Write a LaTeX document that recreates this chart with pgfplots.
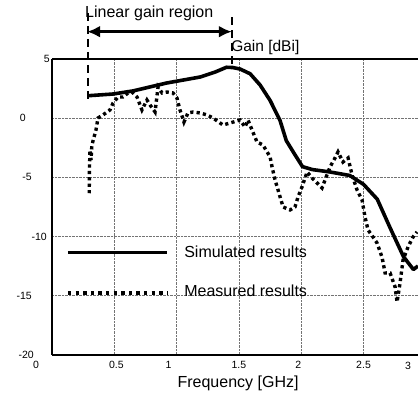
\documentclass[border=0pt]{standalone}
\usepackage{pgfplots}
\pgfplotsset{compat=1.18}
\usepackage{fontspec}
\setmainfont{Liberation Sans}
\usetikzlibrary{arrows.meta}
\newcommand{\sh}[2]{\makebox[0pt]{\hspace*{#1}#2}}
\begin{document}
\begin{tikzpicture}
\begin{axis}[name=ax, scale only axis, width=366pt, height=295.7pt,
  xmin=0, xmax=2.937, ymin=-20, ymax=5,
  axis x line*=box, axis y line*=left,
  axis line style={line width=2.2pt},
  xtick={0,0.5,1,1.5,2,2.5},
  xticklabels={\sh{-32pt}{0},\sh{4pt}{0.5},\sh{-16pt}{1},\sh{0pt}{1.5},\sh{-6pt}{2},\sh{0pt}{2.5}},
  ytick={-20,-15,-10,-5,0,5},
  yticklabels={{-20\hspace*{16pt}},{-15\hspace*{18pt}},{-10\hspace*{3pt}},{-5\hspace*{18pt}},{0\hspace*{24pt}},{5}},
  xticklabel style={anchor=north, inner sep=0pt, yshift=-6pt},
  yticklabel style={anchor=east, inner sep=0pt, xshift=-2pt},
  tick label style={font=\fontsize{10.5}{12}\selectfont},
  major tick length=0pt,
  grid=major, grid style={densely dotted, black!55, line width=0.6pt},
  clip=false]
% simulated
\addplot[black, line width=3.6pt, line join=round] coordinates {
(0.297,1.90)(0.49,2.04)(0.65,2.30)(0.92,2.97)(1.19,3.48)(1.31,3.90)(1.40,4.30)(1.45,4.28)(1.51,4.15)(1.59,3.75)(1.67,2.8)(1.75,1.5)(1.83,-0.2)(1.88,-1.9)(1.95,-3.1)(2.01,-4.1)(2.09,-4.35)(2.23,-4.55)(2.39,-4.85)(2.50,-5.6)(2.61,-6.85)(2.71,-9.2)(2.82,-11.7)(2.90,-12.8)(2.937,-12.5)
};
% measured
\addplot[black, line width=3.4pt, dash pattern=on 3.2pt off 3.2pt] coordinates {
(0.299,-6.35)(0.30,-4.38)(0.305,-2.69)(0.313,-3.54)(0.32,-2.27)(0.331,-1.85)(0.353,-1.0)(0.369,0.01)(0.409,0.27)(0.465,0.69)(0.49,1.28)(0.53,1.79)(0.57,1.79)(0.61,2.13)(0.642,2.21)(0.682,1.79)(0.722,0.69)(0.762,1.53)(0.787,1.11)(0.827,0.52)(0.851,2.63)(0.883,2.13)(0.923,2.21)(0.971,2.13)(1.003,1.70)(1.027,0.69)(1.059,-0.33)(1.091,0.44)(1.132,0.52)(1.188,0.44)(1.244,0.27)(1.292,0.01)(1.372,-0.58)(1.429,-0.41)(1.509,-0.16)(1.549,-0.75)(1.573,-0.16)(1.605,-1.0)(1.645,-2.02)(1.693,-2.27)(1.75,-3.28)(1.766,-4.13)(1.79,-5.23)(1.814,-6.07)(1.854,-7.51)(1.91,-7.76)(1.95,-7.51)(1.974,-6.67)(2.006,-5.82)(2.047,-4.55)(2.087,-5.06)(2.127,-5.48)(2.167,-5.90)(2.191,-5.23)(2.231,-4.13)(2.271,-3.37)(2.295,-2.86)(2.335,-3.71)(2.376,-3.37)(2.408,-4.81)(2.448,-6.07)(2.488,-6.92)(2.512,-8.36)(2.536,-9.45)(2.576,-10.05)(2.608,-10.55)(2.648,-11.74)(2.673,-13.09)(2.713,-13.09)(2.753,-14.27)(2.769,-15.54)(2.793,-13.93)(2.817,-11.99)(2.857,-10.89)(2.897,-10.05)(2.929,-9.62)
};
% legend samples
\addplot[black, line width=3.6pt] coordinates {(0.128,-11.37)(0.923,-11.37)};
\addplot[black, line width=3.4pt, dash pattern=on 3.4pt off 4.2pt] coordinates {(0.128,-14.78)(0.923,-14.78)};
\node[anchor=west, inner sep=0pt, font=\fontsize{16}{19}\selectfont] at (axis cs:1.06,-11.3) {Simulated results};
\node[anchor=west, inner sep=0pt, font=\fontsize{16}{19}\selectfont] at (axis cs:1.06,-14.6) {Measured results};
% annotations
\draw[line width=1.8pt, dash pattern=on 8pt off 5pt] (axis cs:0.289,8.89) -- (axis cs:0.289,1.37);
\draw[line width=1.8pt, dash pattern=on 8pt off 5pt] (axis cs:1.445,8.55) -- (axis cs:1.445,4.49);
\draw[line width=2.8pt, {Latex[length=13pt,width=12pt]}-{Latex[length=13pt,width=12pt]}] (axis cs:0.282,7.31) -- (axis cs:1.443,7.31);
\node[anchor=west, inner sep=0pt, font=\fontsize{16}{19}\selectfont] at (axis cs:0.265,8.9) {Linear gain region};
\node[anchor=west, inner sep=0pt, font=\fontsize{15.5}{19}\selectfont] at (axis cs:1.437,5.95) {Gain [dBi]};
\node[inner sep=0pt, font=\fontsize{10.5}{12}\selectfont] at (axis cs:2.857,-20.95) {3};
\node[font=\fontsize{16}{19}\selectfont] at (axis cs:1.493,-22.4) {Frequency [GHz]};
\end{axis}
\pgfresetboundingbox
\path ([xshift=-52pt,yshift=-39.3pt]ax.south west) rectangle ([yshift=59pt]ax.north east);
\end{tikzpicture}
\end{document}
